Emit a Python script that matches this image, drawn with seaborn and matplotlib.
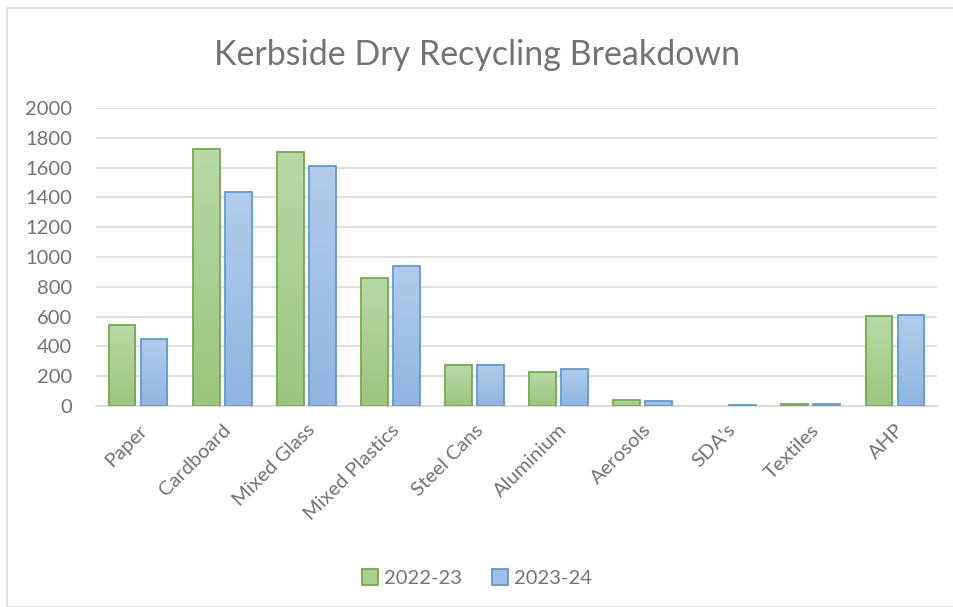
import numpy as np
import pandas as pd
import matplotlib
matplotlib.use("Agg")
import matplotlib.pyplot as plt
import seaborn as sns
from matplotlib.colors import LinearSegmentedColormap
from matplotlib.patches import Rectangle

categories = ["Paper", "Cardboard", "Mixed Glass", "Mixed Plastics", "Steel Cans",
              "Aluminium", "Aerosols", "SDA's", "Textiles", "AHP"]
series_names = ["2022-23", "2023-24"]
values_2022_23 = [543, 1725, 1705, 861, 272, 229, 38, 0, 16, 603]
values_2023_24 = [449, 1433, 1613, 940, 273, 249, 34, 6, 13, 610]
y_ticks = [0, 200, 400, 600, 800, 1000, 1200, 1400, 1600, 1800, 2000]

df = pd.DataFrame({
    "Category": categories * 2,
    "Series": [series_names[0]] * len(categories) + [series_names[1]] * len(categories),
    "Value": values_2022_23 + values_2023_24,
})

sns.set_theme(style="white")
plt.rcParams["font.family"] = ["Lato", "DejaVu Sans"]

text_col = "#737373"
grid_col = "#d9d9d9"
edge_cols = {"2022-23": "#70ad47", "2023-24": "#5b9bd5"}
grad = {"2022-23": ("#b9d8a6", "#9cc57c"), "2023-24": ("#b1cbea", "#90b5e0")}
palette = {"2022-23": "#a9d08e", "2023-24": "#9fc0e6"}
fs = 14.5

fig = plt.figure(figsize=(9.54, 6.07), dpi=100)
ax = fig.add_axes([96 / 954, 1 - 406 / 607, (937 - 96) / 954, (406 - 108) / 607])

sns.barplot(data=df, x="Category", y="Value", hue="Series", order=categories,
            hue_order=series_names, palette=palette, width=0.76, gap=0.16,
            errorbar=None, ax=ax, legend=False, zorder=3)

# style bars with gradient fill and coloured edge
n = len(categories)
for i, patch in enumerate(ax.patches[:2 * n]):
    s = series_names[i // n]
    patch.set_edgecolor(edge_cols[s])
    patch.set_linewidth(1.3)
    x0, y0 = patch.get_x(), patch.get_y()
    w, h = patch.get_width(), patch.get_height()
    if h <= 0:
        patch.set_linewidth(0)
        patch.set_facecolor("none")
        continue
    cmap = LinearSegmentedColormap.from_list("g", [grad[s][1], grad[s][0]])
    im = ax.imshow(np.linspace(0, 1, 64).reshape(-1, 1), cmap=cmap, origin="lower",
                   extent=[x0, x0 + w, y0, y0 + h], aspect="auto", zorder=2.5)
    im.set_clip_path(patch)
    patch.set_facecolor("none")
    patch.set_zorder(3)

ax.set_xlim(-0.5, n - 0.5)
ax.set_ylim(0, 2000)
ax.set_yticks(y_ticks)
ax.set_yticklabels([str(t) for t in y_ticks], color=text_col, fontsize=fs)
ax.yaxis.grid(True, color=grid_col, linewidth=1.2, zorder=0)
ax.set_axisbelow(True)
for sp in ["left", "right", "top"]:
    ax.spines[sp].set_visible(False)
ax.spines["bottom"].set_color(grid_col)
ax.spines["bottom"].set_linewidth(1.2)
ax.tick_params(axis="y", length=0, pad=17)
ax.tick_params(axis="x", length=0, pad=11)
ax.set_xticks(range(n))
ax.set_xticklabels(categories, rotation=45, ha="right", rotation_mode="anchor",
                   color=text_col, fontsize=fs)
ax.set_xlabel("")
ax.set_ylabel("")

fig.text(0.5, 1 - 55 / 607, "Kerbside Dry Recycling Breakdown", ha="center", va="center",
         fontsize=24.5, color=text_col)

handles = [Rectangle((0, 0), 1, 1, facecolor=palette[s], edgecolor=edge_cols[s], linewidth=1.3)
           for s in series_names]
fig.legend(handles, series_names, loc="center", bbox_to_anchor=(0.5, 1 - 578 / 607),
           ncol=2, frameon=False, fontsize=fs, labelcolor=text_col,
           handlelength=0.8, handleheight=0.8, handletextpad=0.3, columnspacing=1.5)

fig.patches.append(Rectangle((7 / 954, 0), 1.2, 1 - 8 / 607, transform=fig.transFigure,
                             fill=False, edgecolor=grid_col, linewidth=1.2))

fig.savefig("out.png", dpi=100)
